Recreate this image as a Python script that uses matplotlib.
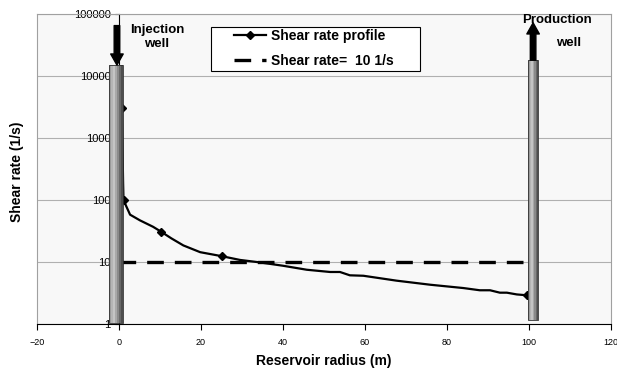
import numpy as np
import matplotlib
matplotlib.use("Agg")
import matplotlib.pyplot as plt
from matplotlib.patches import Rectangle

plt.rcParams['font.family'] = ['Liberation Sans', 'DejaVu Sans']

# ---- data ----
radius = [0.7, 1.0, 1.1, 1.6, 2.7, 5.1, 8.3, 10.2, 12.8, 15.7, 19.8, 25.1, 29.5, 33.6,
          36.0, 40.0, 45.8, 51.5, 53.9, 56.3, 59.6, 67.7, 75.9, 84.0, 88.0, 90.5, 92.9,
          94.6, 97.0, 99.6]
shear = [3000, 190, 100, 84, 58, 47, 37, 31, 24, 18.5, 14.4, 12.4, 10.8, 10.0,
         9.5, 8.7, 7.5, 6.9, 6.9, 6.1, 6.0, 5.0, 4.3, 3.8, 3.5, 3.5, 3.2,
         3.2, 3.0, 2.9]
marker_idx = [0, 2, 7, 11, 29]
ref_x = [0, 100]
ref_y = [10, 10]
xticks = [-20, 0, 20, 40, 60, 80, 100, 120]
yticks = [1, 10, 100, 1000, 10000, 100000]
ytick_labels = ['1', '10', '100', '1000', '10000', '100000']

inj_well = dict(x0=-2.5, x1=1.0, y0=1.02, y1=15000, arrow_from=65000, arrow_to=15000, ax=-0.5)
prod_well = dict(x0=99.8, x1=102.3, y0=1.16, y1=18000, arrow_from=18000, arrow_to=72000, ax=101.0)

# ---- figure ----
fig = plt.figure(figsize=(6.17, 3.74), dpi=100)
ax = fig.add_axes([37/617, 1-324/374, 574/617, 310/374])
ax.set_facecolor('#F8F8F8')
ax.set_yscale('log')
ax.set_xlim(-20, 120)
ax.set_ylim(1, 100000)

ax.set_yticks(yticks)
ax.set_yticklabels(ytick_labels)
ax.yaxis.set_minor_locator(matplotlib.ticker.NullLocator())
ax.set_xticks(xticks)
ax.tick_params(axis='x', labelsize=6.5, length=4, pad=6, width=0.8)
ax.tick_params(axis='y', labelsize=8, length=3, pad=3, width=0.8)

ax.grid(axis='y', color='#B0B0B0', lw=0.8)
ax.set_axisbelow(True)

ax.spines['left'].set_position(('data', 0))
ax.spines['left'].set_color('black')
ax.spines['top'].set_color('#A0A0A0')
ax.spines['right'].set_color('#A0A0A0')
ax.spines['bottom'].set_color('black')
ax.plot([0, 0], [0, 1], transform=ax.transAxes, color='#A0A0A0', lw=0.8, clip_on=False)

# curves
ax.plot(radius, shear, color='black', lw=1.6, marker='D', markersize=4,
        markevery=marker_idx, zorder=3, label='Shear rate profile')
ax.plot(ref_x, ref_y, color='black', lw=2.4, dashes=(5, 3.3), zorder=3,
        label='Shear rate=  10 1/s')

# wells (cylinder shading)
def draw_well(w):
    shades = ['#9A9A9A', '#B4B4B4', '#C4C4C4', '#A8A8A8', '#8A8A8A', '#686868', '#4E4E4E']
    n = len(shades)
    xs = np.linspace(w['x0'], w['x1'], n + 1)
    for i in range(n):
        ax.add_patch(Rectangle((xs[i], w['y0']), xs[i+1]-xs[i], w['y1']-w['y0'],
                               facecolor=shades[i], edgecolor='none', zorder=4))
    ax.add_patch(Rectangle((w['x0'], w['y0']), w['x1']-w['x0'], w['y1']-w['y0'],
                           facecolor='none', edgecolor='#303030', lw=0.6, zorder=5))
    ax.annotate('', xy=(w['ax'], w['arrow_to']), xytext=(w['ax'], w['arrow_from']),
                arrowprops=dict(width=4, headwidth=9, headlength=8, color='black', shrink=0),
                zorder=6, annotation_clip=False)

draw_well(inj_well)
draw_well(prod_well)

# texts
ax.text(0.209, 0.926, 'Injection\nwell', transform=ax.transAxes, ha='center', va='center',
        fontsize=9.5, fontweight='bold', linespacing=1.3)
ax.text(0.906, 0.981, 'Production', transform=ax.transAxes, ha='center', va='center',
        fontsize=9.5, fontweight='bold', zorder=7)
ax.text(0.927, 0.906, 'well', transform=ax.transAxes, ha='center', va='center',
        fontsize=9.5, fontweight='bold', zorder=7)

# legend box + legend
ax.add_patch(Rectangle((0.3031, 0.8161), 0.3641, 0.1419, transform=ax.transAxes,
                       facecolor='white', edgecolor='black', lw=0.8, zorder=8))
leg = ax.legend(loc='upper left', bbox_to_anchor=(0.343, 0.952),
                prop=dict(weight='bold', size=10), frameon=False,
                handlelength=2.3, labelspacing=0.8,
                borderpad=0, handletextpad=0.4, borderaxespad=0)
leg.set_zorder(9)

ax.set_ylabel('Shear rate (1/s)', fontsize=10, fontweight='bold')
ax.yaxis.set_label_coords(-0.022, 0.49)
ax.set_xlabel('Reservoir radius (m)', fontsize=10, fontweight='bold', labelpad=5)

fig.savefig('out.png', dpi=100)
